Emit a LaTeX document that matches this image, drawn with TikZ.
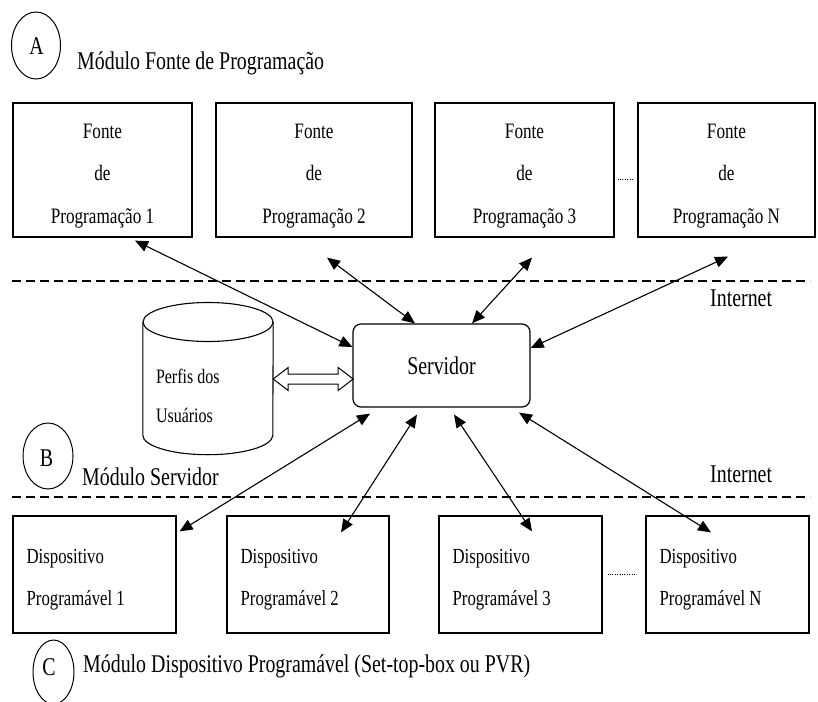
\documentclass[tikz,border=0pt]{standalone}
\usepackage{fontspec}
\setmainfont{Liberation Serif}[FakeStretch=0.78]
\usetikzlibrary{arrows.meta,shapes.geometric,calc}

\tikzset{
  srcbox/.style={draw, line width=1.2pt, minimum height=134pt, inner sep=0pt},
  devbox/.style={draw, line width=1.2pt, minimum width=163pt, minimum height=117pt, inner sep=0pt},
  srvbox/.style={draw, line width=1.2pt, rounded corners=8pt, minimum width=177pt,
                 minimum height=83pt, inner sep=0pt, font=\fontsize{25.5}{30}\selectfont},
  srctext/.style={align=center, inner sep=0pt, font=\fontsize{22}{42.5}\selectfont},
  devtext/.style={align=left, anchor=west, inner sep=0pt, font=\fontsize{21.5}{42}\selectfont},
  dbtext/.style={align=left, anchor=west, inner sep=0pt, font=\fontsize{20.5}{39.5}\selectfont},
  modtext/.style={anchor=base west, inner sep=0pt, font=\fontsize{25.5}{30}\selectfont},
  modletter/.style={anchor=base, inner sep=0pt, font=\fontsize{25.5}{30}\selectfont},
  modring/.style={draw, ellipse, line width=1pt, inner sep=0pt},
  link/.style={line width=1.1pt,
               {Triangle[length=13pt,width=11pt]}-{Triangle[length=13pt,width=11pt]}},
  netline/.style={line width=2.2pt, dash pattern=on 9pt off 5pt},
  gapdots/.style={line width=0.9pt, dash pattern=on 0.9pt off 1.5pt},
  hollow/.style={draw, fill=white, line width=1pt, line join=miter},
}

\begin{document}
\begin{tikzpicture}[x=1pt, y=-1pt]
  \useasboundingbox (0,0) rectangle (818,701);
  \fill[white] (0,0) rectangle (818,701);
  \clip (0,0) rectangle (818,701);

  % module A: programming sources
  \node[modring, minimum width=49pt, minimum height=67pt] (ringA) at (36,45.5) {};
  \node[modletter] (letA) at (36.5,55) {A};
  \node[modtext] (modA) at (77,70) {Módulo Fonte de Programação};

  \node[srcbox, minimum width=179pt] (f1) at (102.5,170) {};
  \node[srcbox, minimum width=196pt] (f2) at (314,170) {};
  \node[srcbox, minimum width=179pt] (f3) at (524.5,170) {};
  \node[srcbox, minimum width=177pt] (fN) at (726.5,170) {};
  \node[srctext] (t1) at ([yshift=-6pt]f1.center) {Fonte\\de\\Programação 1};
  \node[srctext] (t2) at ([yshift=-6pt]f2.center) {Fonte\\de\\Programação 2};
  \node[srctext] (t3) at ([yshift=-6pt]f3.center) {Fonte\\de\\Programação 3};
  \node[srctext] (tN) at ([yshift=-6pt]fN.center) {Fonte\\de\\Programação N};
  \draw[gapdots] ([xshift=3pt,yshift=-9pt]f3.east) -- ([xshift=-5pt,yshift=-9pt]fN.west);

  % internet boundaries
  \coordinate (n1l) at (12,281);
  \coordinate (n1r) at (810,281);
  \coordinate (n2l) at (12,497);
  \coordinate (n2r) at (810,497);
  \draw[netline] (n1l) -- (n1r);
  \draw[netline] (n2l) -- (n2r);
  \node[modtext] (net1) at (710,306) {Internet};
  \node[modtext] (net2) at (710,482) {Internet};

  % module B: server and user profiles
  \node[srvbox] (S) at (441.5,365.5) {Servidor};

  \node[inner sep=0pt, minimum width=130pt, minimum height=113pt] (perfis) at (208,378.5) {};
  \draw[line width=1.1pt] (208,322) ellipse [x radius=65pt, y radius=19.5pt];
  \draw[line width=1.1pt] (perfis.north west) -- (perfis.south west)
        arc[start angle=180, end angle=360, x radius=65pt, y radius=19.5pt]
        -- (perfis.north east);
  \node[dbtext] (ptxt) at ([xshift=13pt,yshift=-17.25pt]perfis.west) {Perfis dos\\Usuários};

  \coordinate (hA) at ([yshift=-0.5pt]perfis.east);
  \draw[hollow] (hA) -- ++(15,-11.5) -- ++(0,6.5) -- ++(50,0) -- ++(0,-6.5)
        -- ++(15,11.5) -- ++(-15,11.5) -- ++(0,-6.5) -- ++(-50,0) -- ++(0,6.5) -- cycle;

  \node[modring, minimum width=50pt, minimum height=66pt] (ringB) at (48,456) {};
  \node[modletter] (letB) at (46.5,466.5) {B};
  \node[modtext] (modB) at (82,485) {Módulo Servidor};

  % links between sources and server
  \draw[link] ([xshift=32.5pt,yshift=-3pt]f1.south) -- ([yshift=18.5pt]S.west);
  \draw[link] ([xshift=13pt,yshift=-20pt]f2.south) -- ([xshift=-26.5pt]S.north);
  \draw[link] ([xshift=7.5pt,yshift=-20pt]f3.south) -- ([xshift=30.5pt]S.north);
  \draw[link] ([xshift=1.5pt,yshift=-19pt]fN.south) -- ([yshift=17.5pt]S.east);

  % module C: programmable devices
  \node[devbox] (d1) at (94.5,574.5) {};
  \node[devbox, minimum width=162pt] (d2) at (308,574.5) {};
  \node[devbox] (d3) at (520.5,574.5) {};
  \node[devbox] (dN) at (727.5,574.5) {};
  \node[devtext] (u1) at ([xshift=14pt,yshift=-5.5pt]d1.west) {Dispositivo\\Programável 1};
  \node[devtext] (u2) at ([xshift=14pt,yshift=-5.5pt]d2.west) {Dispositivo\\Programável 2};
  \node[devtext] (u3) at ([xshift=14pt,yshift=-5.5pt]d3.west) {Dispositivo\\Programável 3};
  \node[devtext] (uN) at ([xshift=14pt,yshift=-5.5pt]dN.west) {Dispositivo\\Programável N};
  \draw[gapdots] ([xshift=5pt]d3.east) -- ([xshift=-9pt]dN.west);

  % links between server and devices
  \draw[link] ([xshift=-71.5pt,yshift=-6pt]S.south) -- ([xshift=3pt,yshift=-16pt]d1.north east);
  \draw[link] ([xshift=-24.5pt,yshift=-7pt]S.south) -- ([xshift=33pt,yshift=-17pt]d2.north);
  \draw[link] ([xshift=12.5pt,yshift=-7pt]S.south) -- ([xshift=11.5pt,yshift=-16pt]d3.north);
  \draw[link] ([xshift=77.5pt,yshift=-5pt]S.south) -- ([xshift=-16.5pt,yshift=-17pt]dN.north);

  \node[modring, minimum width=41pt, minimum height=64pt] (ringC) at (53.5,672) {};
  \node[modletter] (letC) at (49,675) {C};
  \node[modtext] (modC) at (83,672) {Módulo Dispositivo Programável (Set-top-box ou PVR)};
\end{tikzpicture}
\end{document}
